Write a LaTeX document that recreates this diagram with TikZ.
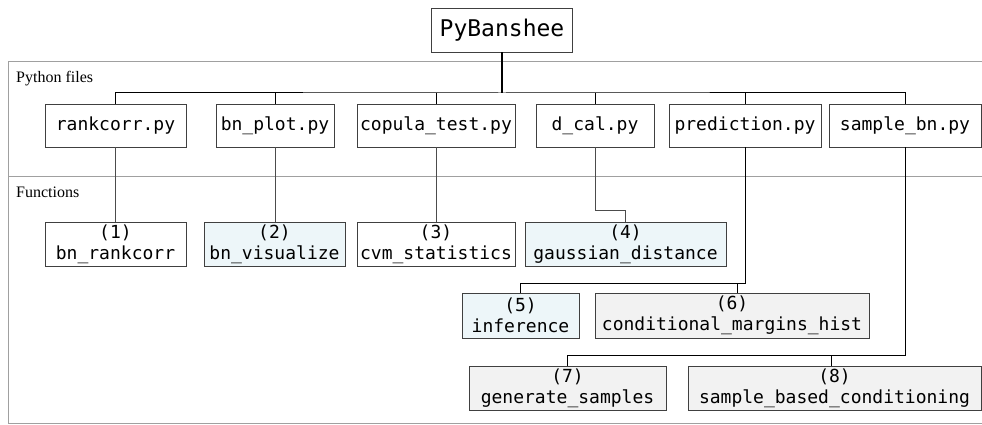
\documentclass[tikz,border=0pt]{standalone}
\usepackage{fontspec}
\setmainfont{Liberation Serif}
\setmonofont{DejaVu Sans Mono}
\usetikzlibrary{
    calc,
    positioning
}
\definecolor{funcblue}{RGB}{237,246,249}
\definecolor{funcgray}{RGB}{242,242,242}
\definecolor{panelgray}{RGB}{160,160,160}

\begin{document}
\begin{tikzpicture}[
    x=1pt,
    y=-1pt,
    filebox/.style = {
        draw=black!75,
        line width=0.8pt,
        rectangle,
        fill=white,
        inner sep=0pt,
        minimum height=43pt,
        font=\ttfamily\fontsize{18}{21}\selectfont
    },
    funcbox/.style = {
        filebox,
        align=center,
        minimum height=44pt
    },
    panel/.style = {
        draw=panelgray,
        line width=1pt
    },
    link/.style = {
        draw=black!70,
        line width=0.8pt
    },
    mainlink/.style = {
        draw=black,
        line width=1pt
    },
    heading/.style = {
        anchor=base west,
        inner sep=0pt,
        font=\fontsize{16}{19}\selectfont
    },
]
    \useasboundingbox (0,0) rectangle (982,425);

    % Panels
    \draw [panel] (982,62) -| (8,423) -- (982,423);
    \draw [panel] (8,176) -- (982,176);
    \node [heading] (files_label) at (16,83) {Python files};
    \node [heading] (func_label) at (16,197) {Functions};

    % Package
    \node [filebox, minimum width=141pt, minimum height=44pt,
        font=\ttfamily\fontsize{23}{27}\selectfont] (pybanshee) at (502,30) {PyBanshee};

    % Python files
    \node [filebox, minimum width=141pt] (rankcorr)   at (115.5,125.5) {rankcorr.py};
    \node [filebox, minimum width=118pt] (bnplot)     at (275,125.5)   {bn\_plot.py};
    \node [filebox, minimum width=158pt] (copulatest) at (436,125.5)   {copula\_test.py};
    \node [filebox, minimum width=118pt] (dcal)       at (595,125.5)   {d\_cal.py};
    \node [filebox, minimum width=152pt] (prediction) at (745,125.5)   {prediction.py};
    \node [filebox, minimum width=152pt] (samplebn)   at (905,125.5)   {sample\_bn.py};

    % Functions, first row
    \node [funcbox, minimum width=141pt] (f1) at (115.5,244) {(1)\\ bn\_rankcorr};
    \node [funcbox, minimum width=141pt, fill=funcblue] (f2) at (274.5,244) {(2)\\ bn\_visualize};
    \node [funcbox, minimum width=158pt] (f3) at (436,244) {(3)\\ cvm\_statistics};
    \node [funcbox, minimum width=201pt, fill=funcblue] (f4) at (625.5,244) {(4)\\ gaussian\_distance};

    % Functions, second row
    \node [funcbox, minimum width=117pt, minimum height=45pt, fill=funcblue] (f5)
        at (520.5,315.5) {(5)\\ inference};
    \node [funcbox, minimum width=274pt, minimum height=45pt, fill=funcgray] (f6)
        at (732,315.5) {(6)\\ conditional\_margins\_hist};

    % Functions, third row
    \node [funcbox, minimum width=197pt, fill=funcgray] (f7) at (567.5,388) {(7)\\ generate\_samples};
    \node [funcbox, minimum width=293pt, fill=funcgray] (f8) at (834.5,388) {(8)\\ sample\_based\_conditioning};

    % Package to files
    \coordinate (bus) at (502,93);
    \draw [line width=1.6pt] (pybanshee.south) -- (bus);
    \draw [mainlink] (rankcorr.north) |- (bus) -| (samplebn.north);
    \draw [mainlink] (bnplot.north) -- (bnplot.north |- bus);
    \draw [mainlink] (copulatest.north) -- (copulatest.north |- bus);
    \draw [mainlink] (dcal.north) -- (dcal.north |- bus);
    \draw [mainlink] (prediction.north) -- (prediction.north |- bus);

    % Files to functions
    \draw [link] (rankcorr) -- (f1);
    \draw [link] (bnplot.south) -- (bnplot.south |- f2.north);
    \draw [link] (copulatest) -- (f3);
    \draw [link] (dcal.south) |- ($(f4.north)+(0,-11)$) -| (f4.north);

    \coordinate (pred_bus) at ($(prediction.south)+(0,136)$);
    \coordinate (f6_in) at ([xshift=5pt]f6.north);
    \draw [mainlink] (prediction.south) -- (pred_bus) -| (f5.north);
    \draw [mainlink] (f6_in) -- (f6_in |- pred_bus);

    \coordinate (sample_bus) at ($(samplebn.south)+(0,208)$);
    \coordinate (f8_in) at ([xshift=-3.5pt]f8.north);
    \draw [mainlink] (samplebn.south) -- (sample_bus) -| (f7.north);
    \draw [mainlink] (f8_in) -- (f8_in |- sample_bus);
\end{tikzpicture}
\end{document}
